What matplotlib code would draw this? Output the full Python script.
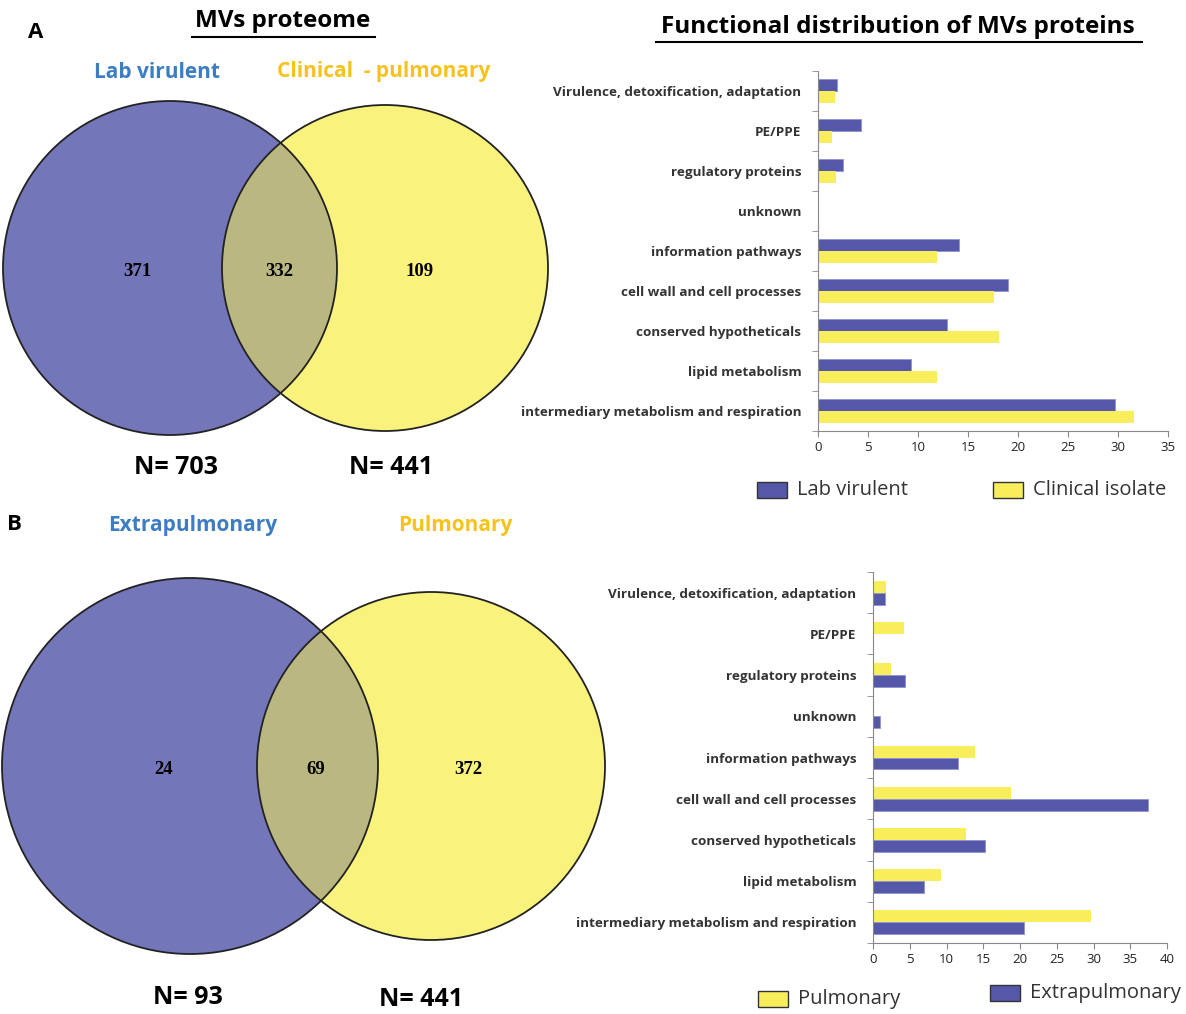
import numpy as np
import matplotlib.pyplot as plt
from matplotlib.patches import Circle, Rectangle

# categories, bottom to top as drawn in the bar charts
categories = [
    "intermediary metabolism and respiration",
    "lipid metabolism",
    "conserved hypotheticals",
    "cell wall and cell processes",
    "information pathways",
    "unknown",
    "regulatory proteins",
    "PE/PPE",
    "Virulence, detoxification, adaptation",
]

# panel A: percent of proteins per functional class
lab_virulent = [29.7, 9.3, 12.9, 19.0, 14.1, 0.0, 2.5, 4.3, 1.9]
clinical_isolate = [31.6, 11.9, 18.1, 17.6, 11.9, 0.0, 1.8, 1.4, 1.7]

# panel B
pulmonary = [29.6, 9.2, 12.7, 18.8, 13.9, 0.0, 2.4, 4.2, 1.8]
extrapulmonary = [20.5, 7.0, 15.2, 37.4, 11.5, 0.9, 4.4, 0.0, 1.7]

# venn counts
venn_a = [371, 332, 109]
venn_a_n = [703, 441]
venn_b = [24, 69, 372]
venn_b_n = [93, 441]

BLUE_FILL = "#7376b9"
YELLOW_FILL = "#f9f27c"
OVERLAP_FILL = "#bab880"
BAR_BLUE = "#5558a8"
BAR_YELLOW = "#f8ee5c"
TXT_BLUE = "#3d7dc3"
TXT_GOLD = "#f7c21e"

W, H = 1186, 1014
fig = plt.figure(figsize=(W / 100, H / 100), dpi=100)

# background axes in pixel coordinates for the venn diagrams and headings
bg = fig.add_axes([0, 0, 1, 1])
bg.set_xlim(0, W)
bg.set_ylim(H, 0)
bg.axis("off")

FONT = "Open Sans"


def venn(ax, c1, r1, c2, r2, counts, label_x):
    blue = Circle(c1, r1, facecolor=BLUE_FILL, edgecolor="none")
    yellow = Circle(c2, r2, facecolor=YELLOW_FILL, edgecolor="none")
    ax.add_patch(blue)
    ax.add_patch(yellow)
    lens = Circle(c2, r2, facecolor=OVERLAP_FILL, edgecolor="none")
    ax.add_patch(lens)
    lens.set_clip_path(blue)
    ax.add_patch(Circle(c1, r1, fill=False, edgecolor="#222222", lw=1.3))
    ax.add_patch(Circle(c2, r2, fill=False, edgecolor="#222222", lw=1.3))
    for x, n in zip(label_x, counts):
        ax.text(x, c1[1] + 3, str(n), ha="center", va="center",
                family="Liberation Serif", weight="bold", fontsize=13.5)


venn(bg, (170, 268), 167, (385, 268), 163, venn_a, [137, 279, 420])
venn(bg, (190, 766), 188, (431, 766), 174, venn_b, [164, 316, 468])

# headings
bg.text(36, 33, "A", ha="center", va="center", family=FONT, weight="bold", fontsize=16)
bg.text(14, 524, "B", ha="center", va="center", family=FONT, weight="bold", fontsize=16)
bg.text(283, 21, "MVs proteome", ha="center", va="center", family=FONT,
        weight="bold", fontsize=17.5)
bg.plot([192, 375], [37, 37], color="black", lw=1.5)
bg.text(898, 27, "Functional distribution of MVs proteins", ha="center", va="center",
        family=FONT, weight="bold", fontsize=17.5)
bg.plot([656, 1142], [42, 42], color="black", lw=1.5)

bg.text(157, 72, "Lab virulent", ha="center", va="center", color=TXT_BLUE,
        family=FONT, weight="bold", fontsize=15)
bg.text(384, 72, "Clinical  - pulmonary", ha="center", va="center", color=TXT_GOLD,
        family=FONT, weight="bold", fontsize=15)
bg.text(193, 525, "Extrapulmonary", ha="center", va="center", color=TXT_BLUE,
        family=FONT, weight="bold", fontsize=15)
bg.text(455, 525, "Pulmonary", ha="center", va="center", color=TXT_GOLD,
        family=FONT, weight="bold", fontsize=15)

bg.text(176, 468, f"N= {venn_a_n[0]}", ha="center", va="center", family=FONT,
        weight="bold", fontsize=18)
bg.text(391, 468, f"N= {venn_a_n[1]}", ha="center", va="center", family=FONT,
        weight="bold", fontsize=18)
bg.text(188, 998, f"N= {venn_b_n[0]}", ha="center", va="center", family=FONT,
        weight="bold", fontsize=18)
bg.text(421, 1000, f"N= {venn_b_n[1]}", ha="center", va="center", family=FONT,
        weight="bold", fontsize=18)


def px_axes(x0, x1, y0, y1):
    return fig.add_axes([x0 / W, 1 - y1 / H, (x1 - x0) / W, (y1 - y0) / H])


def bar_panel(ax, upper, lower, upper_color, lower_color, xmax, step):
    y = np.arange(len(categories))
    h = 0.29
    ax.barh(y + h / 2, upper, height=h, color=upper_color,
            edgecolor="#8f92d0" if upper_color == BAR_BLUE else "none", lw=0.6)
    ax.barh(y - h / 2, lower, height=h, color=lower_color,
            edgecolor="#8f92d0" if lower_color == BAR_BLUE else "none", lw=0.6)
    ax.set_xlim(0, xmax)
    ax.set_ylim(-0.5, len(categories) - 0.5)
    ax.set_xticks(np.arange(0, xmax + 1, step))
    ax.set_yticks(y)
    ax.set_yticklabels(categories, family=FONT, fontsize=9.7, weight="bold",
                       color="#333333")
    ax.set_yticks(np.arange(len(categories) + 1) - 0.5, minor=True)
    ax.tick_params(axis="y", which="major", length=0, pad=12)
    ax.tick_params(axis="y", which="minor", length=4, color="#888888", direction="out")
    ax.tick_params(axis="x", length=4, color="#888888", direction="out",
                   labelsize=9.5, labelcolor="#222222")
    for lab in ax.get_xticklabels():
        lab.set_family(FONT)
    for s in ["top", "right"]:
        ax.spines[s].set_visible(False)
    for s in ["left", "bottom"]:
        ax.spines[s].set_color("#888888")


ax1 = px_axes(818, 1168, 71, 431)
bar_panel(ax1, lab_virulent, clinical_isolate, BAR_BLUE, BAR_YELLOW, 35, 5)

ax2 = px_axes(873, 1167, 572, 943)
bar_panel(ax2, pulmonary, extrapulmonary, BAR_YELLOW, BAR_BLUE, 40, 5)


# legends drawn as patches + text in pixel space
def legend_item(x, y, color, label):
    bg.add_patch(Rectangle((x, y - 8), 30, 16, facecolor=color, edgecolor="#333333", lw=1))
    bg.text(x + 40, y, label, ha="left", va="center", family=FONT, fontsize=14.5,
            color="#333333")


legend_item(757, 490, BAR_BLUE, "Lab virulent")
legend_item(993, 490, BAR_YELLOW, "Clinical isolate")
legend_item(758, 999, BAR_YELLOW, "Pulmonary")
legend_item(990, 993, BAR_BLUE, "Extrapulmonary")

fig.savefig("out.png", dpi=100)
